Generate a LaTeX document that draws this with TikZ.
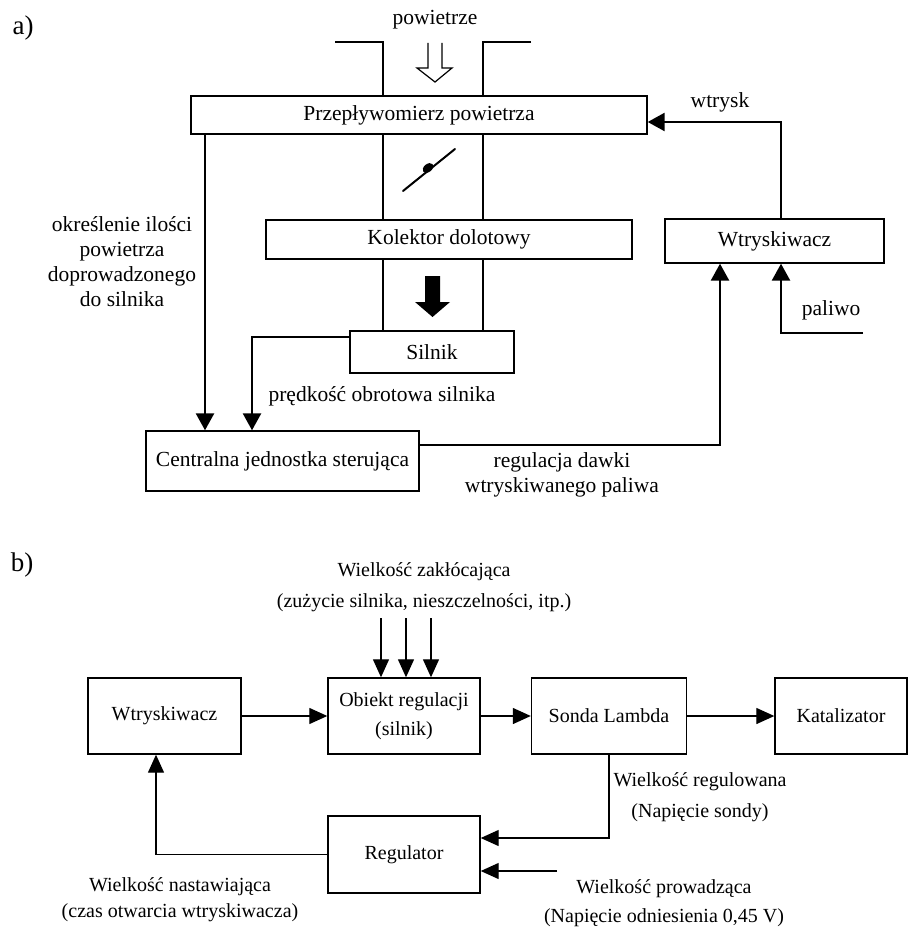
\documentclass[tikz,border=0pt]{standalone}
\usepackage{fontspec}
\setmainfont{Liberation Serif}
\usepackage{tikz}
\usetikzlibrary{arrows.meta, positioning, calc}

\begin{document}
\begin{tikzpicture}[
    x=1pt, y=-1pt,
    fa/.style={font=\fontsize{21.5}{25}\selectfont},
    fb/.style={font=\fontsize{20}{29}\selectfont},
    box/.style={rectangle, draw, line width=1.4pt, inner sep=0pt, align=center, fa},
    bbox/.style={box, fb, minimum width=153pt, minimum height=76pt},
    arrow/.style={line width=2.6pt, -{Triangle[length=17pt, width=18pt]}},
    thinarrow/.style={line width=1.3pt, -{Triangle[length=18pt, width=16pt]}},
    duct/.style={line width=1.4pt},
    lbl/.style={align=center, fa},
    lblb/.style={align=center, fb}
]
\useasboundingbox (0,0) rectangle (910,931);

\node[font=\fontsize{27}{30}\selectfont] (partA) at (23,28) {a)};
\node[lbl] (air) at (435,20) {powietrze};

\node[box, minimum width=456pt, minimum height=38pt] (flow) at (419,115) {Przepływomierz powietrza};
\node[box, minimum width=366pt, minimum height=39pt] (kolektor) at (449,239.5) {Kolektor dolotowy};
\node[box, minimum width=219pt, minimum height=44pt] (wtryskA) at (774.5,241) {Wtryskiwacz};
\node[box, minimum width=164pt, minimum height=42pt] (silnik) at (432,352) {Silnik};
\node[box, minimum width=273pt, minimum height=60pt] (ecu) at (282.5,461) {Centralna jednostka sterująca};

\coordinate (dl) at (383,0);
\coordinate (dr) at (483,0);
\draw[duct] (335,42) -- (383,42) -- (dl |- flow.north);
\draw[duct] (531,42) -- (483,42) -- (dr |- flow.north);
\draw[duct] (dl |- flow.south) -- (dl |- kolektor.north);
\draw[duct] (dr |- flow.south) -- (dr |- kolektor.north);
\draw[duct] (dl |- kolektor.south) -- (dl |- silnik.north);
\draw[duct] (dr |- kolektor.south) -- (dr |- silnik.north);

\draw[line width=1.2pt, fill=white] (428,43) -- (428,68) -- (417,68) -- (435,82) -- (452,68) -- (442,68) -- (442,43);
\draw[line width=2pt, line cap=round] (403,191) -- (455,149);
\fill[rotate around={39:(428,168)}] (428,168) ellipse (6pt and 4pt);
\fill (425,276) -- (440,276) -- (440,302) -- (450,302) -- (432.5,317) -- (415,302) -- (425,302) -- cycle;

\coordinate (xw) at (781,0);
\coordinate (xair) at (205,0);
\coordinate (xspd) at (252,0);
\coordinate (xdose) at (720,0);
\coordinate (fuelIn) at (863,333);

\draw[arrow] (xw |- wtryskA.north) |- ([yshift=-7pt]flow.east);
\draw[arrow] (xair |- flow.south) -- (xair |- ecu.north);
\draw[arrow] ([yshift=15pt]silnik.west) -| (xspd |- ecu.north);
\draw[arrow] ([yshift=16pt]ecu.east) -| (xdose |- wtryskA.south);
\draw[arrow] (fuelIn) -| (xw |- wtryskA.south);

\node[lbl] (wtryskLbl) at (720,102) {wtrysk};
\node[lbl] (airLbl) at (122,262) {określenie ilości\\powietrza\\doprowadzonego\\do silnika};
\node[lbl] (spdLbl) at (382,396) {prędkość obrotowa silnika};
\node[lbl] (doseLbl) at (562,475) {regulacja dawki\\wtryskiwanego paliwa};
\node[lbl] (fuelLbl) at (831,310) {paliwo};

\node[font=\fontsize{27}{30}\selectfont] (partB) at (22,565) {b)};

\node[bbox] (wtryskB) at (164.5,716) {Wtryskiwacz};
\node[bbox, minimum width=152pt] (obiekt) at (404,716) {Obiekt regulacji\\(silnik)};
\node[bbox, minimum width=155pt] (sonda) at (609,716) {Sonda Lambda};
\node[bbox, minimum width=132pt] (kat) at (841,716) {Katalizator};
\node[bbox, minimum width=152pt, minimum height=77pt] (reg) at (404,854.5) {Regulator};

\draw[thinarrow] (wtryskB) -- (obiekt);
\draw[thinarrow] (obiekt) -- (sonda);
\draw[thinarrow] (sonda) -- (kat);
\foreach \x [count=\i] in {381,406,431} {
    \coordinate (dist\i) at (\x,618);
    \draw[thinarrow] (dist\i) -- (dist\i |- obiekt.north);
}
\coordinate (refIn) at (557,871);
\coordinate (xset) at (156,0);
\draw[thinarrow] (sonda.south) |- ([yshift=16.5pt]reg.east);
\draw[thinarrow] (refIn) -- (refIn -| reg.east);
\draw[thinarrow] (reg.west) -| (xset |- wtryskB.south);

\node[lblb] (distLbl) at (424,587) {Wielkość zakłócająca\\[2pt](zużycie silnika, nieszczelności, itp.)};
\node[lblb] (ctrlLbl) at (700,797.5) {Wielkość regulowana\\[2pt](Napięcie sondy)};
\node[lblb] (refLbl) at (664,903) {Wielkość prowadząca\\(Napięcie odniesienia 0,45 V)};
\node[lblb, font=\fontsize{20}{26}\selectfont] (setLbl) at (180,900) {Wielkość nastawiająca\\(czas otwarcia wtryskiwacza)};

\end{tikzpicture}
\end{document}
